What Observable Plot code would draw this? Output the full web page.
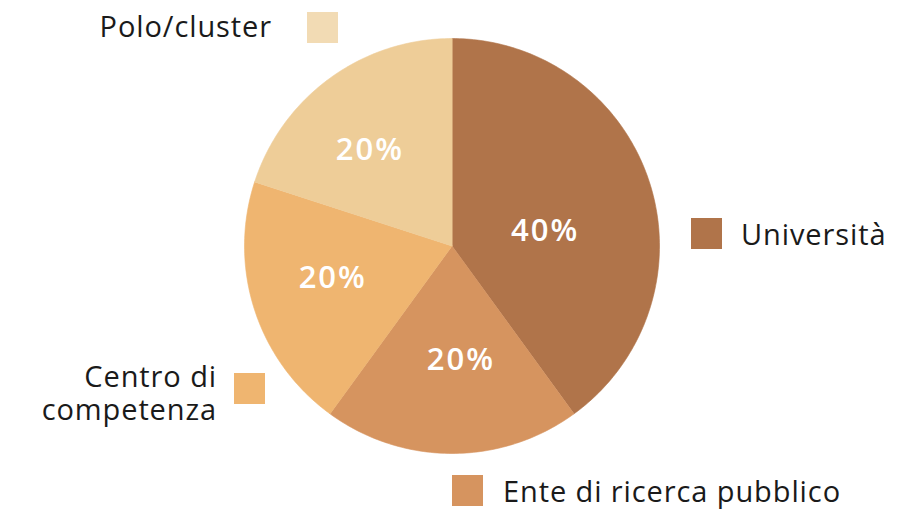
<!DOCTYPE html>
<html>
<head>
<meta charset="utf-8">
<script src="https://cdn.jsdelivr.net/npm/d3@7"></script>
<script src="https://cdn.jsdelivr.net/npm/@observablehq/plot@0.6"></script>
<style>
  html, body { margin: 0; padding: 0; background: #fff; }
  #wrap { position: relative; width: 924px; height: 510px; font-family: "Open Sans", sans-serif; }
  #wrap svg { position: absolute; left: 0; top: 0; }
  #wrap svg text { letter-spacing: 2px; }
  .lg { position: absolute; font-size: 29px; color: #1a1a1a; line-height: 29px; letter-spacing: 0.9px; white-space: nowrap; }
  .sw { position: absolute; width: 31px; height: 31px; }
</style>
</head>
<body>
<div id="wrap"></div>
<script>
// Data
const categories = ["Università", "Ente di ricerca pubblico", "Centro di competenza", "Polo/cluster"];
const values = [40, 20, 20, 20];
const colors = ["#B0744A", "#D6945F", "#EFB570", "#EECD98"];
const legendColors = ["#B0744A", "#D6945F", "#EFB570", "#F2DBB4"];
const legendLines = [["Università"], ["Ente di ricerca pubblico"], ["Centro di", "competenza"], ["Polo/cluster"]];
const labelRadius = [0.45, 0.55, 0.6, 0.61];
const labelAngleShift = [9, -4, 3, -5];

const total = d3.sum(values);
const pieData = d3.pie().sort(null).value(d => d)(values);

// Polygons for each slice (unit circle, angle clockwise from top, y up)
const poly = [];
pieData.forEach((p, i) => {
  poly.push({cat: categories[i], x: 0, y: 0, k: 0});
  const n = Math.max(2, Math.ceil((p.endAngle - p.startAngle) / (Math.PI / 180)));
  for (let j = 0; j <= n; j++) {
    const a = p.startAngle + (p.endAngle - p.startAngle) * j / n;
    poly.push({cat: categories[i], x: Math.sin(a), y: Math.cos(a), k: j + 1});
  }
});

const labels = pieData.map((p, i) => {
  const a = (p.startAngle + p.endAngle) / 2 + labelAngleShift[i] * Math.PI / 180;
  return {x: labelRadius[i] * Math.sin(a), y: labelRadius[i] * Math.cos(a),
          text: Math.round(values[i] / total * 100) + "%"};
});

const chart = Plot.plot({
  width: 924,
  height: 510,
  margin: 0,
  x: {domain: [-1, 1], range: [244, 659], axis: null},
  y: {domain: [-1, 1], range: [453, 38], axis: null},
  color: {domain: categories, range: colors},
  style: {background: "transparent", fontFamily: "Open Sans, sans-serif"},
  marks: [
    Plot.line(poly, {x: "x", y: "y", z: "cat", fill: "cat", stroke: "cat", strokeWidth: 0.6, curve: "linear-closed"}),
    Plot.text(labels, {x: "x", y: "y", text: "text", fill: "#fff", fontSize: 31, fontWeight: 600, textAnchor: "middle", lineAnchor: "middle", dx: 1})
  ]
});

const wrap = document.getElementById("wrap");
wrap.appendChild(chart);

// Legend layout (HTML)
const legendLayout = [
  {sw: [691, 218], left: 741, top: 219},
  {sw: [452, 475], left: 503, top: 476},
  {sw: [234, 373], right: 924 - 217, top: 361},
  {sw: [307, 12], right: 924 - 272, top: 11}
];
const lineStep = 33;
legendLayout.forEach((L, i) => {
  const s = document.createElement("div");
  s.className = "sw";
  s.style.left = L.sw[0] + "px";
  s.style.top = L.sw[1] + "px";
  s.style.background = legendColors[i];
  wrap.appendChild(s);
  legendLines[i].forEach((line, j) => {
    const t = document.createElement("div");
    t.className = "lg";
    t.textContent = line;
    t.style.top = (L.top + j * lineStep) + "px";
    if (L.left != null) t.style.left = L.left + "px";
    if (L.right != null) { t.style.right = L.right + "px"; t.style.textAlign = "right"; }
    wrap.appendChild(t);
  });
});
</script>
</body>
</html>
